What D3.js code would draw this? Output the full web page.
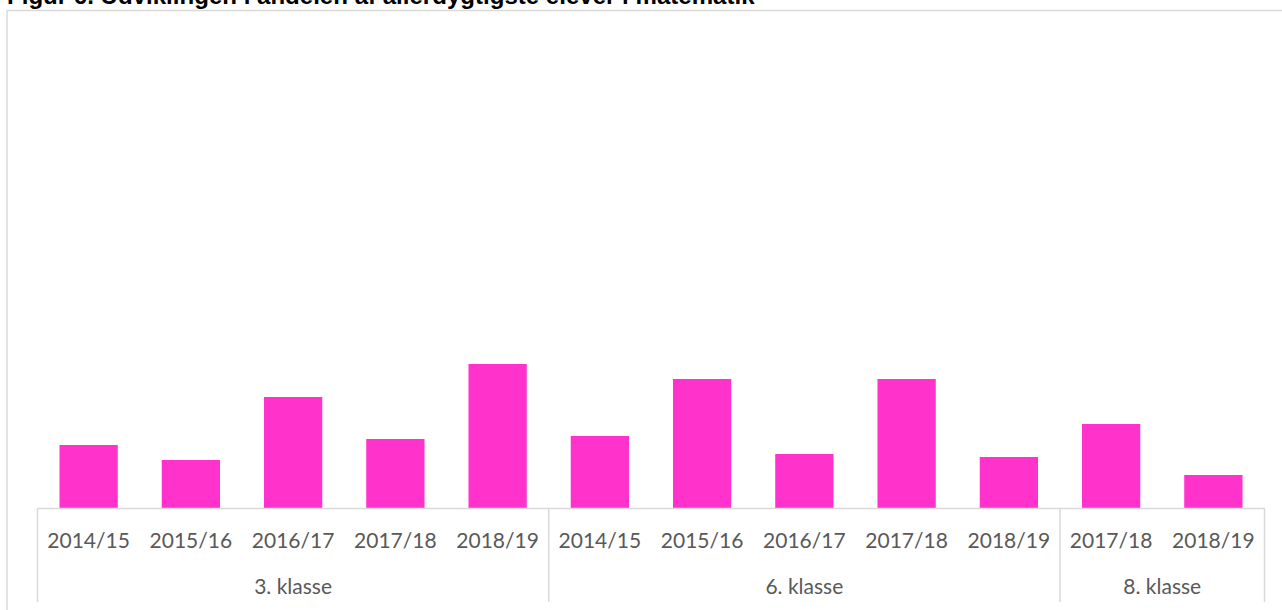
<!DOCTYPE html>
<html>
<head>
<meta charset="utf-8">
<script src="https://cdn.jsdelivr.net/npm/d3@7"></script>
<style>
  html, body { margin: 0; padding: 0; background: #fff; overflow: hidden; }
  svg { display: block; }
</style>
</head>
<body>
<svg id="chart" width="1282" height="610"></svg>
<script>
const title = "Figur 6. Udviklingen i andelen af allerdygtigste elever i matematik";
const groups = ["3. klasse", "6. klasse", "8. klasse"];
const years3 = ["2014/15", "2015/16", "2016/17", "2017/18", "2018/19"];
const years6 = ["2014/15", "2015/16", "2016/17", "2017/18", "2018/19"];
const years8 = ["2017/18", "2018/19"];
const values3 = [2.1, 1.6, 3.7, 2.3, 4.8];
const values6 = [2.4, 4.3, 1.8, 4.3, 1.7];
const values8 = [2.8, 1.1];

(function () {
const data = [];
[[groups[0], years3, values3], [groups[1], years6, values6], [groups[2], years8, values8]]
  .forEach(([g, ys, vs]) => ys.forEach((yr, i) => data.push({ group: g, year: yr, value: vs[i], key: g + "|" + yr })));

const svg = d3.select("#chart");
const W = 1282, H = 610;
const plotLeft = 37.5, plotRight = 1264.5, plotTop = 28, plotBottom = 508;
const axisColor = "#d9d9d9";
const textColor = "#595959";

// outer chart border
svg.append("rect")
  .attr("x", 7).attr("y", 10.5)
  .attr("width", W + 20).attr("height", H + 20)
  .attr("fill", "none").attr("stroke", axisColor).attr("stroke-width", 1.5);

// title
const t = svg.append("text")
  .attr("x", 7).attr("y", 3.5)
  .attr("font-family", "Liberation Sans, Arial, sans-serif")
  .attr("font-weight", "bold")
  .attr("font-size", 16)
  .attr("fill", "#000")
  .text(title);
const tl = t.node().getComputedTextLength();
t.attr("font-size", 16 * 748 / tl);

const x = d3.scaleBand()
  .domain(data.map(d => d.key))
  .range([plotLeft, plotRight])
  .paddingInner(0.43)
  .paddingOuter(0.215);

const y = d3.scaleLinear().domain([0, 16]).range([plotBottom, plotTop]);

svg.append("g").selectAll("rect")
  .data(data).join("rect")
  .attr("x", d => x(d.key))
  .attr("y", d => y(d.value))
  .attr("width", x.bandwidth())
  .attr("height", d => y(0) - y(d.value))
  .attr("fill", "#ff33cc");

// horizontal axis line
svg.append("line")
  .attr("x1", plotLeft).attr("x2", plotRight)
  .attr("y1", plotBottom + 0.5).attr("y2", plotBottom + 0.5)
  .attr("stroke", axisColor).attr("stroke-width", 1.5);

// group separators
const step = x.step();
let idx = 0;
const bounds = [plotLeft];
const groupCenters = [];
[years3, years6, years8].forEach(ys => {
  const start = plotLeft + idx * step;
  idx += ys.length;
  const end = plotLeft + idx * step;
  bounds.push(end);
  groupCenters.push((start + end) / 2);
});
svg.append("g").selectAll("line")
  .data(bounds).join("line")
  .attr("x1", d => d).attr("x2", d => d)
  .attr("y1", plotBottom).attr("y2", 602)
  .attr("stroke", axisColor).attr("stroke-width", 1.5);

// year labels
svg.append("g").selectAll("text")
  .data(data).join("text")
  .attr("x", d => x(d.key) + x.bandwidth() / 2)
  .attr("y", 548)
  .attr("text-anchor", "middle")
  .attr("font-family", "Lato, 'Open Sans', sans-serif")
  .attr("font-size", 21)
  .attr("fill", textColor)
  .text(d => d.year);

// group labels
svg.append("g").selectAll("text")
  .data(groups).join("text")
  .attr("x", (d, i) => groupCenters[i])
  .attr("y", 594)
  .attr("text-anchor", "middle")
  .attr("font-family", "Lato, 'Open Sans', sans-serif")
  .attr("font-size", 21)
  .attr("fill", textColor)
  .text(d => d);
})();
</script>
</body>
</html>
